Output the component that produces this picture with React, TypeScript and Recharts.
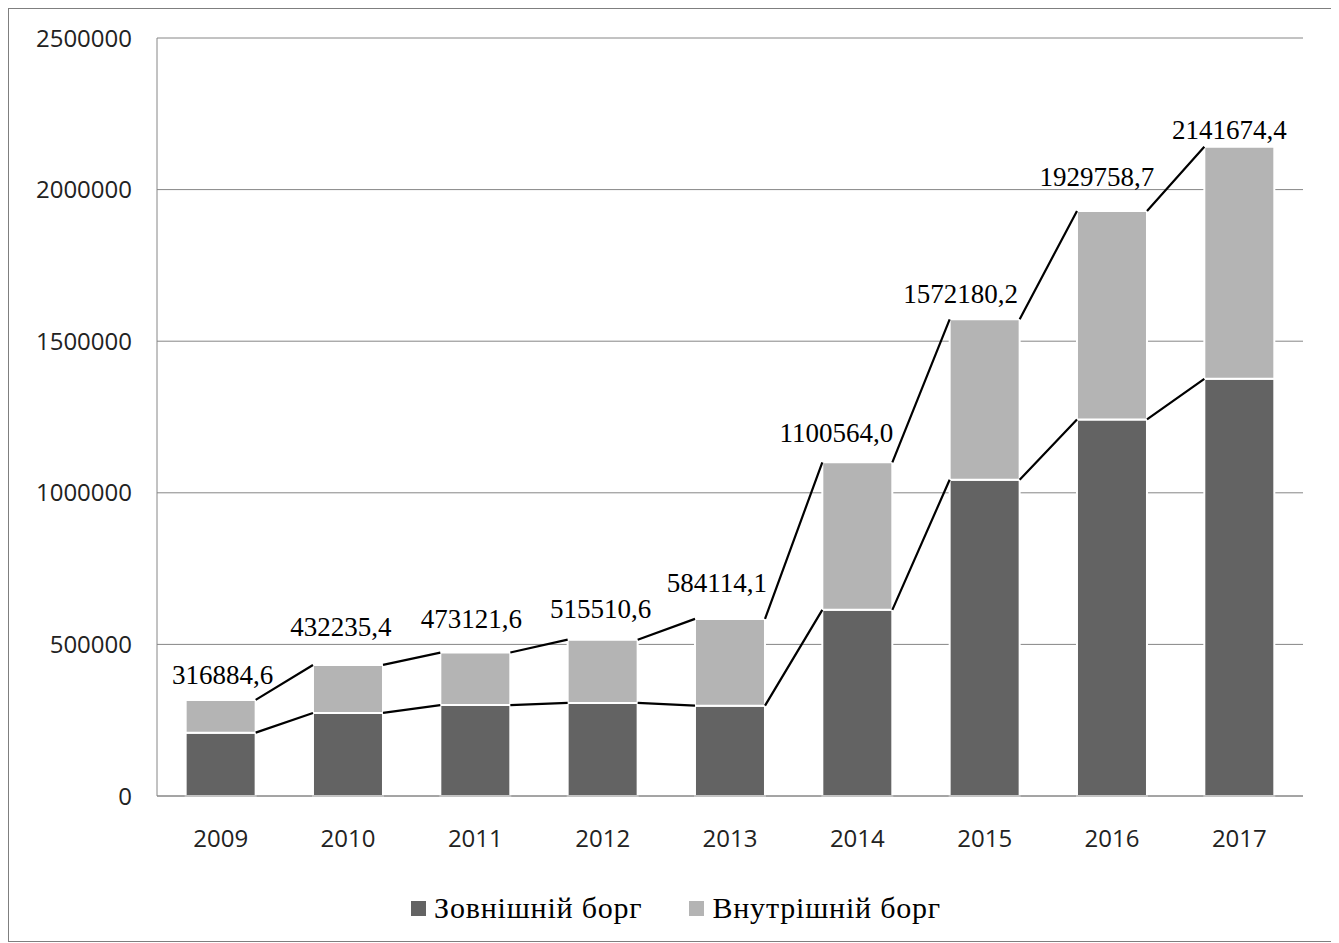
import React from 'react';
import { ComposedChart, Bar, Line, XAxis, YAxis, CartesianGrid, Legend, LabelList } from 'recharts';

const years = ['2009', '2010', '2011', '2012', '2013', '2014', '2015', '2016', '2017'];
const externalDebt = [209000, 274000, 300000, 307000, 298000, 614000, 1043000, 1242000, 1376000];
const totalDebt = [316884.6, 432235.4, 473121.6, 515510.6, 584114.1, 1100564.0, 1572180.2, 1929758.7, 2141674.4];
const yTicks = [0, 500000, 1000000, 1500000, 2000000, 2500000];

// hand-placed data labels in the original: horizontal nudge and gap above the bar top (px)
const labelDx = [2, -7, -4, -2, -13, -21, -24, -15, -10];
const labelGap = [16, 29, 25, 22, 27, 20, 16, 25, 8];

const series = [
  { key: 'external', name: 'Зовнішній борг', color: '#636363' },
  { key: 'internal', name: 'Внутрішній борг', color: '#b4b4b4' },
];

const chartData = years.map((year, i) => ({
  year,
  external: externalDebt[i],
  internal: +(totalDebt[i] - externalDebt[i]).toFixed(1),
  total: totalDebt[i],
}));

// bars take 55% of each category band, so the connectors start half a bar away from the centre
const halfBar = 0.275;

const makeConnector = (values: number[]) => {
  const pts: { x: number; y: number | null }[] = [];
  for (let i = 0; i < values.length - 1; i++) {
    pts.push({ x: i + 0.5 + halfBar, y: values[i] });
    pts.push({ x: i + 1.5 - halfBar, y: values[i + 1] });
    pts.push({ x: i + 1.5, y: null });
  }
  return pts;
};

const externalConnector = makeConnector(externalDebt);
const totalConnector = makeConnector(totalDebt);

const serif = '"Liberation Serif", "Times New Roman", serif';
const sans = '"Open Sans", "Noto Sans", sans-serif';

const renderTotalLabel = (props: any) => {
  const { x, y, width, value, index } = props;
  return (
    <text
      x={Number(x) + Number(width) / 2 + labelDx[index]}
      y={Number(y) - labelGap[index]}
      textAnchor="middle"
      fill="#000"
      style={{ fontSize: 27, fontFamily: serif }}
    >
      {Number(value).toFixed(1).replace('.', ',')}
    </text>
  );
};

const renderLegend = () => (
  <div
    style={{
      display: 'flex',
      justifyContent: 'center',
      alignItems: 'center',
      height: 36,
      paddingLeft: 40,
      boxSizing: 'border-box',
      fontFamily: serif,
      fontSize: 30,
      letterSpacing: 0.8,
      color: '#000',
    }}
  >
    {series.map((s, i) => (
      <span key={s.key} style={{ display: 'inline-flex', alignItems: 'center', marginLeft: i ? 47 : 0 }}>
        <span style={{ display: 'inline-block', width: 15, height: 15, background: s.color, marginRight: 8 }} />
        {s.name}
      </span>
    ))}
  </div>
);

const App: React.FC = () => {
  return (
    <div style={{ width: 1324, height: 932, border: '1px solid #7f7f7f', background: '#fff' }}>
      <ComposedChart
        width={1324}
        height={932}
        data={chartData}
        margin={{ top: 29, right: 30, left: 0, bottom: 15 }}
        barCategoryGap="22.5%"
      >
        <CartesianGrid vertical={false} stroke="#868686" strokeWidth={1} />
        <XAxis
          dataKey="year"
          height={94}
          axisLine={{ stroke: '#868686' }}
          tickLine={false}
          tickSize={0}
          tickMargin={34}
          tick={{ fill: '#222', fontSize: 24, fontFamily: sans }}
        />
        <XAxis xAxisId="pos" type="number" dataKey="x" domain={[0, 9]} hide allowDataOverflow />
        <YAxis
          width={148}
          domain={[0, 2500000]}
          ticks={yTicks}
          interval={0}
          axisLine={{ stroke: '#868686' }}
          tickLine={false}
          tickSize={0}
          tickMargin={25}
          tick={{ fill: '#222', fontSize: 24, fontFamily: sans }}
        />
        <Legend verticalAlign="bottom" content={renderLegend} wrapperStyle={{ height: 36 }} />
        <Bar
          dataKey="external"
          name={series[0].name}
          stackId="debt"
          fill={series[0].color}
          stroke="#fff"
          strokeWidth={2}
          isAnimationActive={false}
        />
        <Bar
          dataKey="internal"
          name={series[1].name}
          stackId="debt"
          fill={series[1].color}
          stroke="#fff"
          strokeWidth={2}
          isAnimationActive={false}
        >
          <LabelList dataKey="total" content={renderTotalLabel} />
        </Bar>
        <Line
          xAxisId="pos"
          data={externalConnector}
          dataKey="y"
          stroke="#000"
          strokeWidth={2.2}
          dot={false}
          activeDot={false}
          connectNulls={false}
          legendType="none"
          isAnimationActive={false}
        />
        <Line
          xAxisId="pos"
          data={totalConnector}
          dataKey="y"
          stroke="#000"
          strokeWidth={2.2}
          dot={false}
          activeDot={false}
          connectNulls={false}
          legendType="none"
          isAnimationActive={false}
        />
      </ComposedChart>
    </div>
  );
};

export default App;
